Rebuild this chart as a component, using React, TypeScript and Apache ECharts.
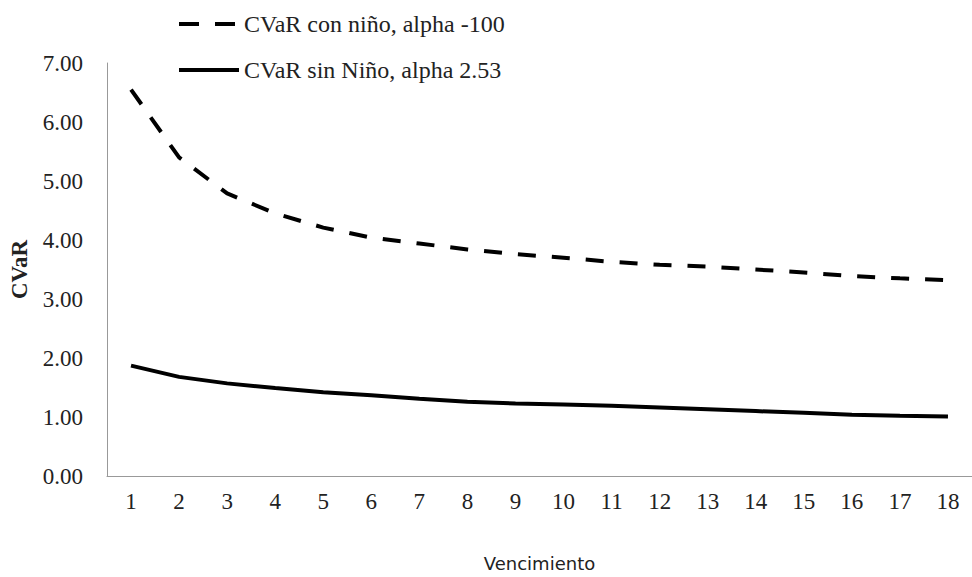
import React, { useEffect, useRef } from "react";
import * as echarts from "echarts";

const categories = ["1","2","3","4","5","6","7","8","9","10","11","12","13","14","15","16","17","18"];
const conNino = [6.55, 5.40, 4.79, 4.45, 4.21, 4.04, 3.94, 3.84, 3.76, 3.70, 3.63, 3.58, 3.55, 3.50, 3.45, 3.39, 3.35, 3.32];
const sinNino = [1.87, 1.68, 1.57, 1.49, 1.42, 1.37, 1.31, 1.26, 1.23, 1.21, 1.19, 1.16, 1.13, 1.10, 1.07, 1.04, 1.02, 1.01];
const seriesNames = ["CVaR con niño, alpha -100", "CVaR sin Niño, alpha 2.53"];

const SERIF = "'Liberation Serif', 'Times New Roman', serif";

export default function App() {
  const ref = useRef<HTMLDivElement>(null);
  useEffect(() => {
    if (!ref.current) return;
    const chart = echarts.init(ref.current, null, { renderer: "svg" });
    chart.setOption({
      animation: false,
      backgroundColor: "#ffffff",
      legend: {
        orient: "vertical",
        left: 172,
        top: 7,
        itemWidth: 60,
        itemHeight: 14,
        itemGap: 22,
        itemStyle: { opacity: 0, borderWidth: 0 },
        textStyle: { fontFamily: SERIF, fontSize: 24, color: "#222" },
        data: [
          { name: seriesNames[0], lineStyle: { type: [20, 16], width: 4, color: "#000", cap: "butt" } },
          { name: seriesNames[1], lineStyle: { type: "solid", width: 4, color: "#000" } },
        ],
      },
      grid: { left: 106, top: 63, width: 875, height: 424, containLabel: false },
      xAxis: {
        type: "category",
        data: categories,
        boundaryGap: true,
        name: "Vencimiento",
        nameLocation: "middle",
        nameGap: 78,
        nameTextStyle: { fontFamily: "'DejaVu Sans', sans-serif", fontSize: 18, color: "#222" },
        axisLine: { lineStyle: { color: "#999", width: 1 } },
        axisTick: { show: false },
        axisLabel: { fontFamily: SERIF, fontSize: 23, color: "#222", margin: 14 },
        splitLine: { show: false },
      },
      yAxis: {
        type: "value",
        min: 0,
        max: 7,
        interval: 1,
        name: "CVaR",
        nameLocation: "middle",
        nameGap: 76,
        nameRotate: 90,
        nameTextStyle: { fontFamily: SERIF, fontSize: 23, fontWeight: "bold", color: "#222" },
        axisLine: { show: true, lineStyle: { color: "#999", width: 1 } },
        axisTick: { show: false },
        axisLabel: {
          fontFamily: SERIF,
          fontSize: 23,
          color: "#222",
          margin: 24,
          formatter: (v: number) => v.toFixed(2),
        },
        splitLine: { show: false },
      },
      series: [
        {
          name: seriesNames[0],
          type: "line",
          data: conNino,
          symbol: "none",
          lineStyle: { color: "#000", width: 4, type: [18, 16], cap: "butt" },
          itemStyle: { color: "#000" },
        },
        {
          name: seriesNames[1],
          type: "line",
          data: sinNino,
          symbol: "none",
          lineStyle: { color: "#000", width: 4, type: "solid" },
          itemStyle: { color: "#000" },
        },
      ],
    });
    return () => chart.dispose();
  }, []);
  return (
    <div
      ref={ref}
      style={{ position: "absolute", left: 0, top: 0, width: 972, height: 577 }}
    />
  );
}
